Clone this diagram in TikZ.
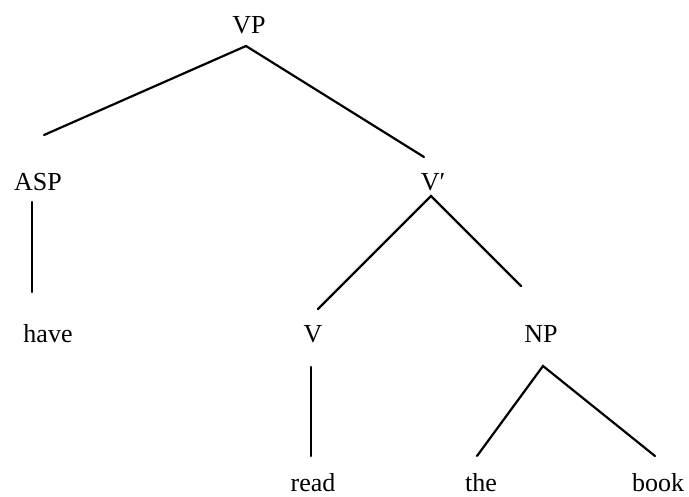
\documentclass[tikz,border=0pt]{standalone}
\usepackage{fontspec}
\setmainfont{Liberation Serif}
\begin{document}
\begin{tikzpicture}[x=1pt,y=-1pt,
  lbl/.style={inner sep=0pt,font=\fontsize{26}{29}\selectfont,anchor=center},
  br/.style={line width=2.2pt,line cap=round}]
\useasboundingbox[fill=white] (0,0) rectangle (689,497);
% labels
\node[lbl] (VP)   at (249,25)  {VP};
\node[lbl] (ASP)  at (38,182)  {ASP};
\node[lbl] (Vbar) at (433,182) {V′};
\node[lbl] (have) at (48,334)  {have};
\node[lbl] (V)    at (313,334) {V};
\node[lbl] (NP)   at (541,334) {NP};
\node[lbl] (read) at (313,483) {read};
\node[lbl] (the)  at (481,483) {the};
\node[lbl] (book) at (658,483) {book};
% branch end points
\coordinate (VP-f)   at (246,46);
\coordinate (ASP-h)  at (44,135);
\coordinate (Vbar-h) at (424,157);
\coordinate (ASP-f)  at (32,202);
\coordinate (have-h) at (32,292);
\coordinate (Vbar-f) at (431,196);
\coordinate (V-h)    at (318,309);
\coordinate (NP-h)   at (521,286);
\coordinate (V-f)    at (311,367);
\coordinate (read-h) at (311,456);
\coordinate (NP-f)   at (543,366);
\coordinate (the-h)  at (477,456);
\coordinate (book-h) at (655,456);
% branches
\draw[br] (ASP-h) -- (VP-f) -- (Vbar-h);
\draw[br] (ASP-f) -- (have-h);
\draw[br] (V-h) -- (Vbar-f) -- (NP-h);
\draw[br] (V-f) -- (read-h);
\draw[br] (the-h) -- (NP-f) -- (book-h);
\end{tikzpicture}
\end{document}
